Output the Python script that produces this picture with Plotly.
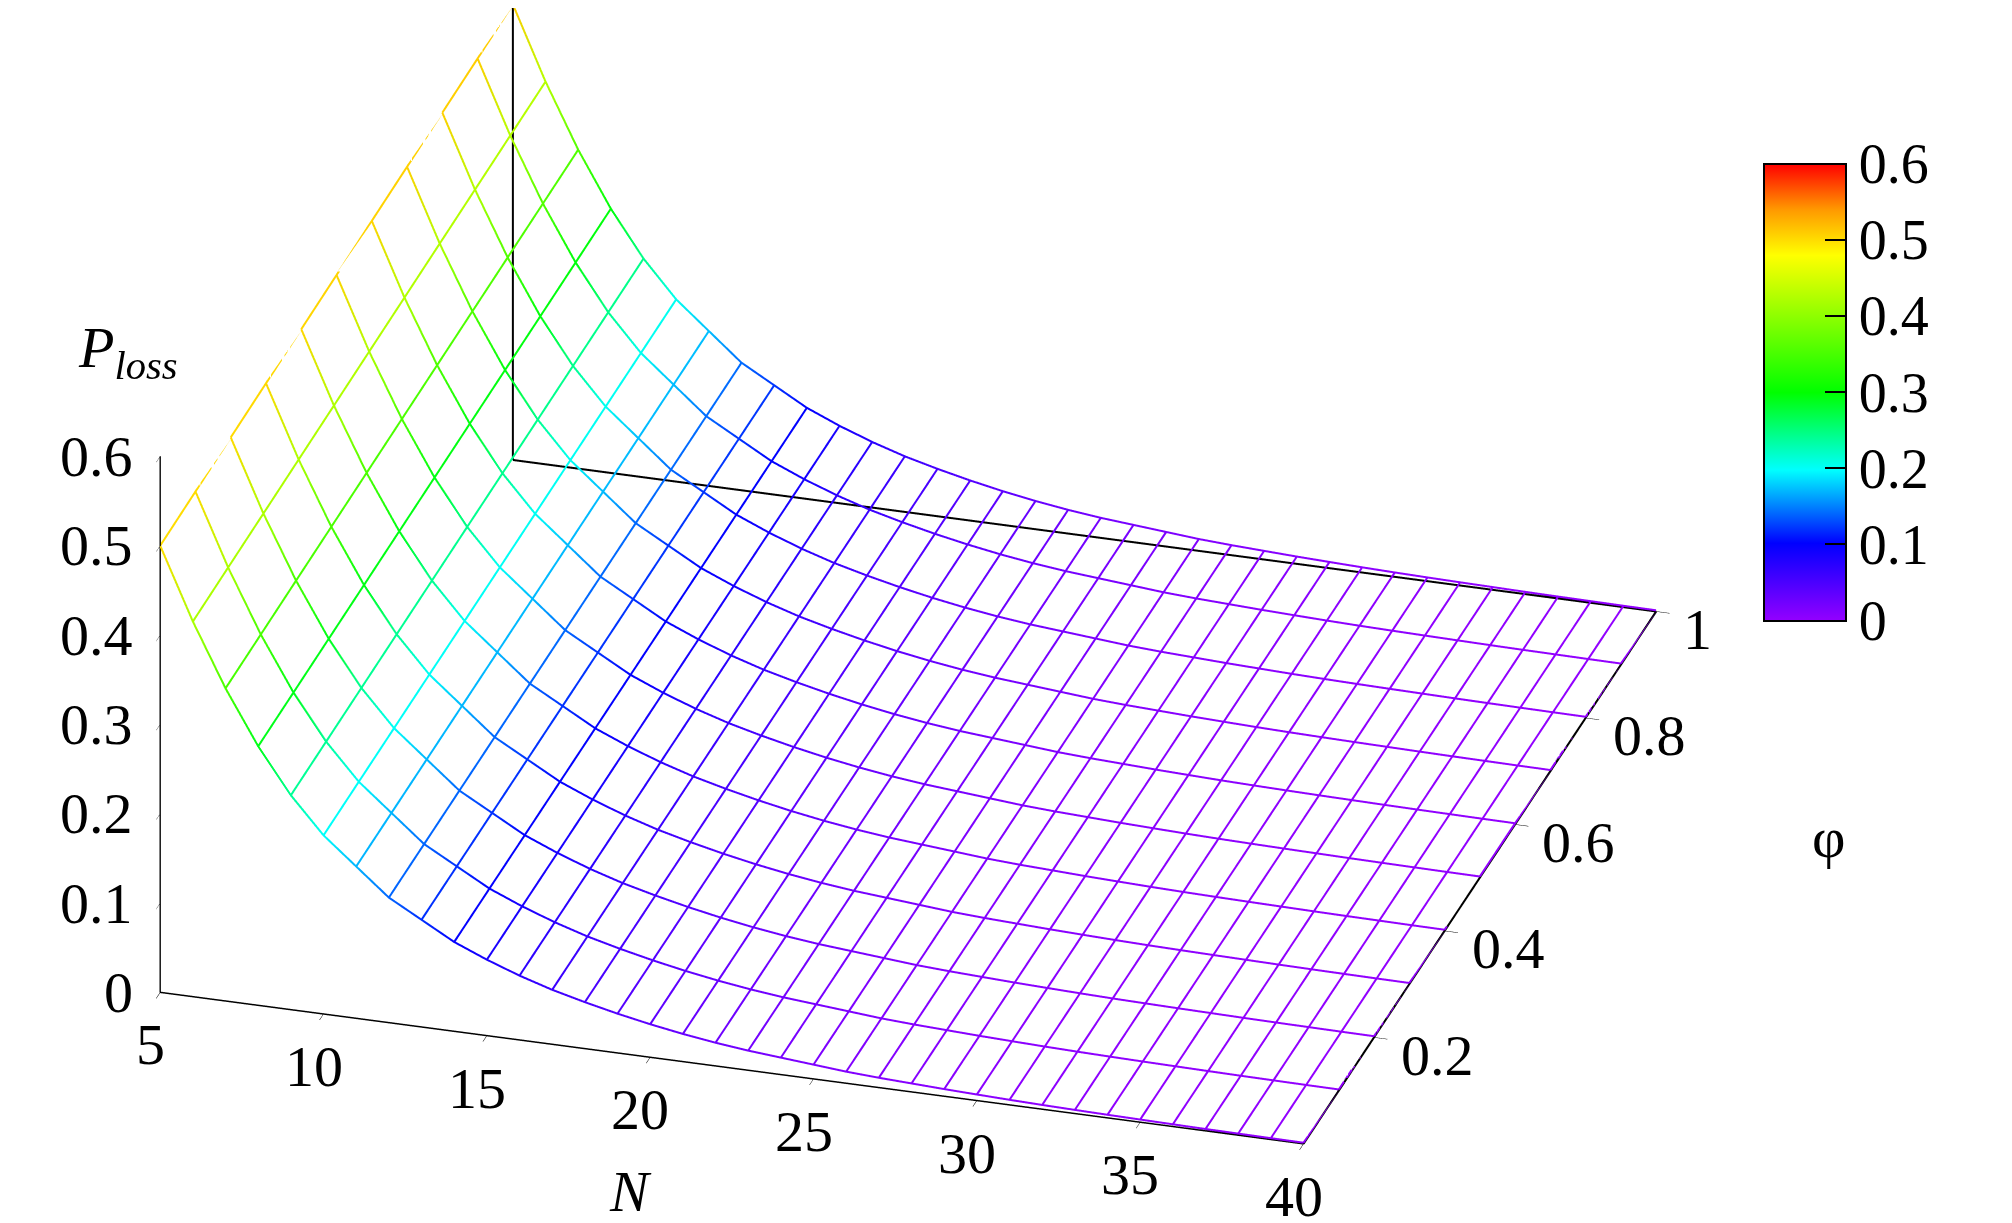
import plotly.graph_objects as go

N_vals = list(range(5, 41))
phi_vals = [0.0, 0.1, 0.2, 0.3, 0.4, 0.5, 0.6, 0.7, 0.8, 0.9, 1.0]
p_front = [0.50, 0.42, 0.35, 0.29, 0.24, 0.20, 0.17, 0.14, 0.12, 0.10, 0.085, 0.072,
           0.061, 0.052, 0.044, 0.037, 0.031, 0.026, 0.022, 0.019, 0.016, 0.013, 0.011,
           0.0095, 0.008, 0.0068, 0.0057, 0.0048, 0.0041, 0.0035, 0.003, 0.0025, 0.0021,
           0.0018, 0.0015, 0.0013]
# slight rise toward phi = 1 (back edge)
phi_factor = [1.0, 1.002, 1.004, 1.006, 1.008, 1.01, 1.012, 1.014, 1.016, 1.018, 1.02]
N_ticks = [5, 10, 15, 20, 25, 30, 35, 40]
phi_ticks = [0.2, 0.4, 0.6, 0.8, 1]
z_ticks = [0, 0.1, 0.2, 0.3, 0.4, 0.5, 0.6]

Z = [[p * f for p in p_front] for f in phi_factor]

cs = [[0, "#9400ff"], [0.17, "#0000ff"], [0.33, "#00ffff"], [0.5, "#00ff00"],
      [0.8, "#ffff00"], [0.9, "#ff9900"], [1, "#ff0000"]]

fig = go.Figure()
nmin, nmax = N_vals[0], N_vals[-1]
pmin, pmax = phi_vals[0], phi_vals[-1]
fig.add_trace(go.Scatter3d(x=[nmin, nmax, nmax], y=[pmax, pmax, pmin], z=[0, 0, 0],
                           mode="lines", line=dict(color="black", width=4),
                           showlegend=False, hoverinfo="skip"))
fig.add_trace(go.Scatter3d(x=[nmin, nmin], y=[pmax, pmax], z=[0, Z[-1][0]],
                           mode="lines", line=dict(color="black", width=4),
                           showlegend=False, hoverinfo="skip"))
for j, ph in enumerate(phi_vals):
    fig.add_trace(go.Scatter3d(x=N_vals, y=[ph]*len(N_vals), z=Z[j], mode="lines",
        line=dict(width=4, color=Z[j], colorscale=cs, cmin=0, cmax=0.6), showlegend=False,
        hoverinfo="skip"))
for i, n in enumerate(N_vals):
    col = [Z[j][i] for j in range(len(phi_vals))]
    fig.add_trace(go.Scatter3d(x=[n]*len(phi_vals), y=phi_vals, z=col, mode="lines",
        line=dict(width=4, color=col, colorscale=cs, cmin=0, cmax=0.6,
                  showscale=(i == 0),
                  colorbar=dict(x=0.868, xanchor="left", y=0.686, len=0.39, thickness=82,
                                tickvals=z_ticks, ticktext=[f"{t:g}" for t in z_ticks],
                                ticks="inside", ticklen=22, tickcolor="black", tickwidth=2,
                                tickfont=dict(size=56, family="Liberation Serif"),
                                outlinecolor="black", outlinewidth=2)),
        showlegend=False, hoverinfo="skip"))

F = dict(size=58, family="Liberation Serif", color="black")
ann = []
for t in z_ticks:
    ann.append(dict(x=nmin, y=pmin, z=t, text=f"{t:g}", showarrow=False, xanchor="right",
                    xshift=-25, font=F))
for t in N_ticks:
    ann.append(dict(x=t, y=pmin, z=0, text=f"{t:g}", showarrow=False, yanchor="top",
                    yshift=-18, xshift=-10, font=F))
for t in phi_ticks:
    ann.append(dict(x=nmax, y=t, z=0, text=f"{t:g}", showarrow=False, xanchor="left",
                    xshift=25, yshift=-18, font=F))
ann.append(dict(x=nmin, y=pmin, z=0.6, text="<i>P<sub>loss</sub></i>", showarrow=False,
                xanchor="right", xshift=20, yshift=105, font=F))
ann.append(dict(x=20, y=pmin, z=0, text="<i>N</i>", showarrow=False, yanchor="top",
                yshift=-100, xshift=-20, font=F))
ann.append(dict(x=nmax, y=0.5, z=0, text="φ", showarrow=False, xanchor="left",
                xshift=330, yshift=40, font=F))

ax = dict(showbackground=False, showgrid=False, zeroline=False, showline=True,
          linecolor="black", linewidth=3, ticks="outside", tickcolor="black", ticklen=14,
          showticklabels=False, title=dict(text=""), showspikes=False)
fig.update_layout(
    width=2012, height=1223, paper_bgcolor="white", margin=dict(l=0, r=0, t=0, b=0),
    font=dict(family="Liberation Serif", color="black"),
    scene=dict(
        xaxis=dict(ax, range=[nmin, nmax], tickvals=N_ticks),
        yaxis=dict(ax, range=[pmin, pmax], tickvals=phi_ticks),
        zaxis=dict(ax, range=[0, 0.6], tickvals=z_ticks),
        annotations=ann,
        aspectmode="manual", aspectratio=dict(x=1.95, y=2.03, z=0.98),
        camera=dict(eye=dict(x=0.42, y=-1.62, z=0.68), center=dict(x=-0.06, y=0, z=-0.165),
                    projection=dict(type="orthographic")),
        domain=dict(x=[0, 0.86], y=[0, 1])))
fig.write_html("out.html")
